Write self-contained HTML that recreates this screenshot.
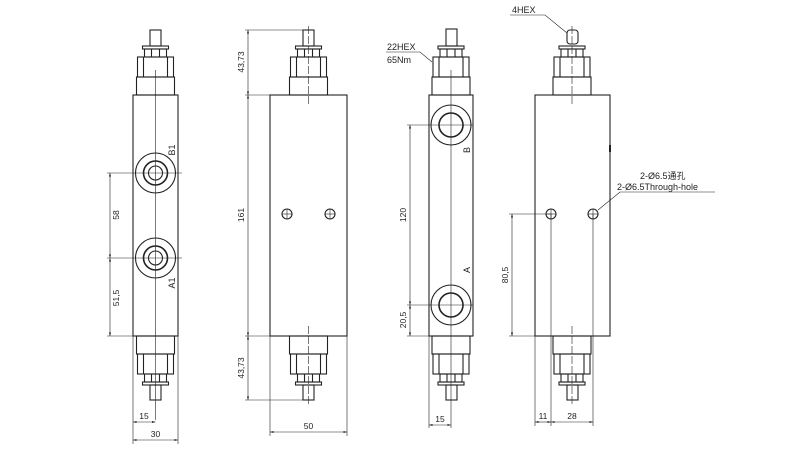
<!DOCTYPE html>
<html><head><meta charset="utf-8"><style>
html,body{margin:0;padding:0;background:#fff;}
svg{display:block;font-family:"Liberation Sans","Noto Sans CJK SC",sans-serif;}
</style></head><body>
<svg width="800" height="450" viewBox="0 0 800 450" xmlns="http://www.w3.org/2000/svg">
<defs>
<marker id="a" viewBox="0 0 10 10" refX="10" refY="5" markerWidth="6" markerHeight="6" orient="auto-start-reverse"><path d="M0,2 L10,5 L0,8 z" fill="#222"/></marker>
<g id="topfit">
<rect x="-19" y="-18" width="38" height="18"/>
<rect x="-18" y="-38" width="36" height="20"/>
<line x1="-12" y1="-38" x2="-12" y2="-18"/><line x1="12" y1="-38" x2="12" y2="-18"/>
<rect x="-11" y="-46" width="22" height="8"/>
<line x1="-4" y1="-46" x2="-4" y2="-38"/><line x1="4" y1="-46" x2="4" y2="-38"/>
<rect x="-13" y="-49" width="26" height="3"/>
</g>
</defs>
<g fill="none" stroke="#222" stroke-width="1.1">
<!-- View 1 -->
<rect x="133" y="95" width="45" height="241"/>
<g transform="translate(155.5,95)"><use href="#topfit"/></g>
<rect x="150" y="30" width="11" height="16"/>
<g transform="translate(155.5,336) scale(1,-1)"><use href="#topfit"/></g>
<rect x="150" y="385" width="11" height="15"/>
<line x1="155.5" y1="70" x2="155.5" y2="420" stroke-width="0.6"/>
<circle cx="155.5" cy="173" r="20"/><circle cx="155.5" cy="173" r="12" stroke-width="1.6"/><circle cx="155.5" cy="173" r="7"/>
<circle cx="155.5" cy="258" r="20"/><circle cx="155.5" cy="258" r="12" stroke-width="1.6"/><circle cx="155.5" cy="258" r="7"/>
<g stroke-width="0.6">
<line x1="107" y1="173" x2="182" y2="173"/><line x1="107" y1="258" x2="182" y2="258"/><line x1="107" y1="336" x2="133" y2="336"/>
<line x1="110" y1="173" x2="110" y2="258" marker-start="url(#a)" marker-end="url(#a)"/>
<line x1="110" y1="258" x2="110" y2="336" marker-start="url(#a)" marker-end="url(#a)"/>
<line x1="133" y1="336" x2="133" y2="444"/><line x1="178" y1="336" x2="178" y2="444"/>
<line x1="133" y1="422" x2="155.5" y2="422" marker-start="url(#a)" marker-end="url(#a)"/>
<line x1="133" y1="440" x2="178" y2="440" marker-start="url(#a)" marker-end="url(#a)"/>
</g>
<!-- View 2 -->
<rect x="270" y="95" width="77" height="241"/>
<g transform="translate(308.5,95)"><use href="#topfit"/></g>
<rect x="303" y="30" width="11" height="16"/>
<g transform="translate(308.5,336) scale(1,-1)"><use href="#topfit"/></g>
<rect x="303" y="385" width="11" height="15"/>
<line x1="308.5" y1="26" x2="308.5" y2="105" stroke-width="0.6" stroke-dasharray="8,2"/>
<line x1="308.5" y1="326" x2="308.5" y2="404" stroke-width="0.6" stroke-dasharray="8,2"/>
<circle cx="287" cy="214" r="5"/><circle cx="330" cy="214" r="5"/>
<g stroke-width="0.6">
<line x1="282" y1="214" x2="292" y2="214"/><line x1="287" y1="209" x2="287" y2="219"/>
<line x1="325" y1="214" x2="335" y2="214"/><line x1="330" y1="209" x2="330" y2="219"/>
<line x1="245" y1="30" x2="303" y2="30"/><line x1="245" y1="95" x2="270" y2="95"/>
<line x1="245" y1="336" x2="270" y2="336"/><line x1="245" y1="400" x2="303" y2="400"/>
<line x1="248" y1="30" x2="248" y2="95" marker-start="url(#a)" marker-end="url(#a)"/>
<line x1="248" y1="95" x2="248" y2="336" marker-start="url(#a)" marker-end="url(#a)"/>
<line x1="248" y1="336" x2="248" y2="400" marker-start="url(#a)" marker-end="url(#a)"/>
<line x1="270" y1="336" x2="270" y2="436"/><line x1="347" y1="336" x2="347" y2="436"/>
<line x1="270" y1="432" x2="347" y2="432" marker-start="url(#a)" marker-end="url(#a)"/>
</g>
<!-- View 3 -->
<rect x="429" y="95" width="44" height="241"/>
<g transform="translate(451,95)"><use href="#topfit"/></g>
<rect x="446" y="29" width="11" height="17"/>
<g transform="translate(451,336) scale(1,-1)"><use href="#topfit"/></g>
<rect x="446" y="385" width="11" height="15"/>
<circle cx="451" cy="125" r="20"/><circle cx="451" cy="125" r="12" stroke-width="1.6"/>
<circle cx="451" cy="305" r="20"/><circle cx="451" cy="305" r="12" stroke-width="1.6"/>
<g stroke-width="0.6">
<line x1="451" y1="70" x2="451" y2="428"/>
<line x1="407" y1="125" x2="473" y2="125"/><line x1="407" y1="305" x2="473" y2="305"/><line x1="407" y1="336" x2="429" y2="336"/>
<line x1="410" y1="125" x2="410" y2="305" marker-start="url(#a)" marker-end="url(#a)"/>
<line x1="410" y1="305" x2="410" y2="336" marker-start="url(#a)" marker-end="url(#a)"/>
<line x1="429" y1="336" x2="429" y2="428"/>
<line x1="429" y1="425" x2="451" y2="425" marker-start="url(#a)" marker-end="url(#a)"/>
<polyline points="386,52 420,52 432,62"/>
</g>
<!-- View 4 -->
<rect x="535" y="95" width="75" height="241"/>
<g transform="translate(572,95)"><use href="#topfit"/></g>
<rect x="567" y="30" width="11" height="14" rx="3"/>
<g transform="translate(572,336) scale(1,-1)"><use href="#topfit"/></g>
<rect x="567" y="385" width="11" height="15"/>
<line x1="572" y1="26" x2="572" y2="105" stroke-width="0.6" stroke-dasharray="8,2"/>
<line x1="572" y1="326" x2="572" y2="404" stroke-width="0.6" stroke-dasharray="8,2"/>
<line x1="610" y1="145" x2="610" y2="152" stroke-width="2"/>
<circle cx="551" cy="214" r="5"/><circle cx="593" cy="214" r="5"/>
<g stroke-width="0.6">
<line x1="546" y1="214" x2="556" y2="214"/><line x1="551" y1="209" x2="551" y2="219"/>
<line x1="588" y1="214" x2="598" y2="214"/><line x1="593" y1="209" x2="593" y2="219"/>
<line x1="509" y1="214" x2="551" y2="214"/><line x1="509" y1="336" x2="535" y2="336"/>
<line x1="512" y1="214" x2="512" y2="336" marker-start="url(#a)" marker-end="url(#a)"/>
<line x1="535" y1="336" x2="535" y2="426"/>
<line x1="551" y1="214" x2="551" y2="426"/><line x1="593" y1="214" x2="593" y2="426"/>
<line x1="535" y1="422" x2="551" y2="422" marker-start="url(#a)" marker-end="url(#a)"/>
<line x1="551" y1="422" x2="593" y2="422" marker-start="url(#a)" marker-end="url(#a)"/>
<polyline points="510,15 545,15 567,33"/>
<polyline points="715,192 620,192 598,210"/>
</g>
</g>
<g fill="#222" font-size="8.5">
<text transform="translate(119,215) rotate(-90)" text-anchor="middle">58</text>
<text transform="translate(119,298) rotate(-90)" text-anchor="middle">51,5</text>
<text transform="translate(175,150) rotate(-90)" text-anchor="middle" font-size="9">B1</text>
<text transform="translate(175,283) rotate(-90)" text-anchor="middle" font-size="9">A1</text>
<text x="144" y="419" text-anchor="middle">15</text>
<text x="155.5" y="437" text-anchor="middle">30</text>
<text transform="translate(244,62) rotate(-90)" text-anchor="middle">43,73</text>
<text transform="translate(244,215) rotate(-90)" text-anchor="middle">161</text>
<text transform="translate(244,368) rotate(-90)" text-anchor="middle">43,73</text>
<text x="308.5" y="429" text-anchor="middle">50</text>
<text transform="translate(406,215) rotate(-90)" text-anchor="middle">120</text>
<text transform="translate(406,320) rotate(-90)" text-anchor="middle">20,5</text>
<text transform="translate(470,150) rotate(-90)" text-anchor="middle" font-size="9">B</text>
<text transform="translate(470,270) rotate(-90)" text-anchor="middle" font-size="9">A</text>
<text x="440" y="422" text-anchor="middle">15</text>
<text x="387" y="50" font-size="9">22HEX</text>
<text x="387" y="63" font-size="9">65Nm</text>
<text x="512" y="13" font-size="9">4HEX</text>
<text x="640" y="179" font-size="9">2-Ø6.5通孔</text>
<text x="617" y="190" font-size="9">2-Ø6.5Through-hole</text>
<text transform="translate(508,275) rotate(-90)" text-anchor="middle">80,5</text>
<text x="543" y="419" text-anchor="middle">11</text>
<text x="572" y="419" text-anchor="middle">28</text>
</g>
</svg>
</body></html>
